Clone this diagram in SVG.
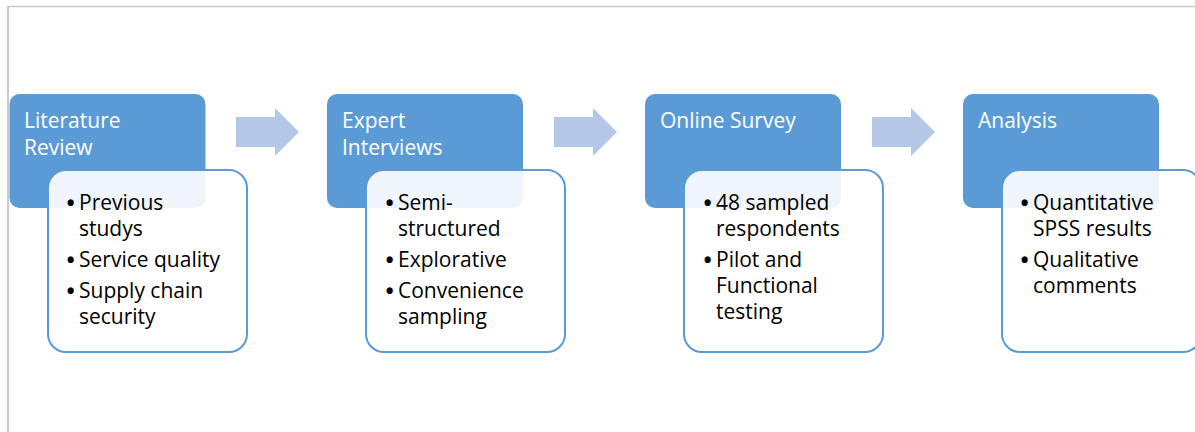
<svg xmlns="http://www.w3.org/2000/svg" width="1195" height="432" viewBox="0 0 1195 432">
  <style>
    .frame { stroke: #c9c9c9; fill: none; }
    .head { fill: #5b9bd5; }
    .body { fill: #ffffff; fill-opacity: 0.9; stroke: #5b9bd5; stroke-width: 2; }
    .arrow { fill: #b4c7e7; }
    .title { font-family: "Open Sans", "Liberation Sans", sans-serif; font-size: 21px; fill: #ffffff; }
    .item { font-family: "Open Sans", "Liberation Sans", sans-serif; font-size: 21px; fill: #000000; }
    .dot { font-size: 22px; font-weight: bold; }
  </style>
  <defs>
    <path id="chev" d="M0,9 H39 V0 L63,24 L39,48 V39 H0 Z"/>
  </defs>
  <rect width="1195" height="432" fill="#ffffff"/>
  <!-- page frame -->
  <line class="frame" x1="8" y1="6.5" x2="1195" y2="6.5" stroke-width="1.5"/>
  <line class="frame" x1="8" y1="6" x2="8" y2="432" stroke-width="2"/>

  <!-- connectors -->
  <g id="connectors">
    <use href="#chev" class="arrow" x="236" y="108"/>
    <use href="#chev" class="arrow" x="554" y="108"/>
    <use href="#chev" class="arrow" x="872" y="108"/>
  </g>

  <!-- stage 1 -->
  <g id="literature-review">
    <rect class="head" x="9.5" y="94" width="196" height="114" rx="10"/>
    <text class="title" x="24" y="128">Literature<tspan x="24" y="155">Review</tspan></text>
    <rect class="body" x="48" y="170" width="199" height="182" rx="18"/>
    <text class="item"><tspan class="dot" x="66.5" y="211">•</tspan><tspan x="79" y="210">Previous</tspan><tspan x="79" y="236">studys</tspan><tspan class="dot" x="66.5" y="268">•</tspan><tspan x="79" y="267">Service quality</tspan><tspan class="dot" x="66.5" y="299">•</tspan><tspan x="79" y="298">Supply chain</tspan><tspan x="79" y="324">security</tspan></text>
  </g>

  <!-- stage 2 -->
  <g id="expert-interviews">
    <rect class="head" x="327" y="94" width="196" height="114" rx="10"/>
    <text class="title" x="342" y="128">Expert<tspan x="342" y="155">Interviews</tspan></text>
    <rect class="body" x="366" y="170" width="199" height="182" rx="18"/>
    <text class="item"><tspan class="dot" x="385.5" y="211">•</tspan><tspan x="398" y="210">Semi-</tspan><tspan x="398" y="236">structured</tspan><tspan class="dot" x="385.5" y="268">•</tspan><tspan x="398" y="267">Explorative</tspan><tspan class="dot" x="385.5" y="299">•</tspan><tspan x="398" y="298">Convenience</tspan><tspan x="398" y="324">sampling</tspan></text>
  </g>

  <!-- stage 3 -->
  <g id="online-survey">
    <rect class="head" x="645" y="94" width="196" height="114" rx="10"/>
    <text class="title" x="660" y="128">Online Survey</text>
    <rect class="body" x="684" y="170" width="199" height="182" rx="18"/>
    <text class="item"><tspan class="dot" x="703.5" y="211">•</tspan><tspan x="716" y="210">48 sampled</tspan><tspan x="716" y="236">respondents</tspan><tspan class="dot" x="703.5" y="268">•</tspan><tspan x="716" y="267">Pilot and</tspan><tspan x="716" y="293">Functional</tspan><tspan x="716" y="319">testing</tspan></text>
  </g>

  <!-- stage 4 -->
  <g id="analysis">
    <rect class="head" x="963" y="94" width="196" height="114" rx="10"/>
    <text class="title" x="978" y="128">Analysis</text>
    <rect class="body" x="1002" y="170" width="199" height="182" rx="18"/>
    <text class="item"><tspan class="dot" x="1020.5" y="211">•</tspan><tspan x="1033" y="210">Quantitative</tspan><tspan x="1033" y="236">SPSS results</tspan><tspan class="dot" x="1020.5" y="268">•</tspan><tspan x="1033" y="267">Qualitative</tspan><tspan x="1033" y="293">comments</tspan></text>
  </g>
</svg>
